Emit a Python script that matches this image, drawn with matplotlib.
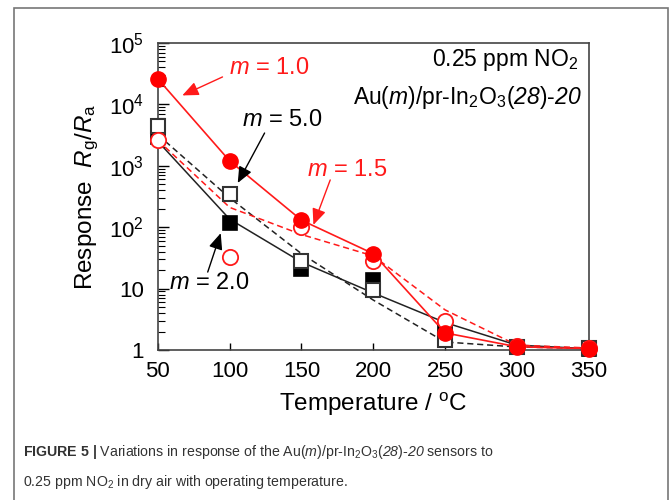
import matplotlib
matplotlib.use("Agg")
import matplotlib.pyplot as plt
from matplotlib.patches import Rectangle
from matplotlib.ticker import FixedLocator, FixedFormatter, NullFormatter, NullLocator

plt.rcParams['font.family'] = ['Liberation Sans', 'DejaVu Sans']
plt.rcParams['mathtext.fontset'] = 'custom'
plt.rcParams['mathtext.rm'] = 'Liberation Sans'
plt.rcParams['mathtext.it'] = 'Liberation Sans:italic'
plt.rcParams['mathtext.bf'] = 'Liberation Sans:bold'
plt.rcParams['mathtext.cal'] = 'Liberation Sans:italic'  # italic digits

# data
temps = [50, 100, 150, 200, 250, 300, 350]
resp_m10 = [2.6e4, 1200, 130, 37, 1.9, 1.13, 1.05]
resp_m15 = [2600, 33, 100, 28, 3.0, 1.16, 1.08]
resp_m20 = [3000, 115, 21, 14, 1.9, 1.10, 1.02]
resp_m50 = [4500, 350, 28, 9.4, 1.45, 1.12, 1.07]

# trend curves as drawn in the original (read at each temperature)
fit_m10 = [2.6e4, 1200, 130, 37, 1.9, 1.13, 1.05]
fit_m15 = [2600, 210, 76, 34, 4.5, 1.2, 1.08]
fit_m20 = [2500, 135, 27, 8.5, 2.8, 1.2, 1.05]
fit_m50 = [3200, 300, 37, 6.5, 1.35, 1.12, 1.06]

yticks = [1, 10, 100, 1000, 1e4, 1e5]
ytick_labels = ['1', '10', '$10^2$', '$10^3$', '$10^4$', '$10^5$']
xticks = [50, 100, 150, 200, 250, 300, 350]

fig = plt.figure(figsize=(6.69, 5.0), dpi=100)
ax = fig.add_axes([0.236, 0.30, 0.644, 0.614])

# trend lines
ax.plot(temps, fit_m20, '-', color='#222222', lw=1.1, zorder=2)
ax.plot(temps, fit_m50, '--', color='#222222', lw=1.1, dashes=(4, 2.5), zorder=2)
ax.plot(temps, fit_m15, '--', color='#ff1a1a', lw=1.1, dashes=(4, 2.5), zorder=2)
ax.plot(temps, fit_m10, '-', color='#ff1a1a', lw=1.2, zorder=2)

# markers
ax.plot(temps, resp_m20, 's', ms=10.5, mfc='black', mec='black', mew=1.2, ls='none',
        zorder=3, clip_on=False)
ax.plot(temps, resp_m50, 's', ms=10.5, mfc='white', mec='#333333', mew=1.5, ls='none',
        zorder=4, clip_on=False)
ax.plot(temps, resp_m15, 'o', ms=11, mfc='white', mec='#ff1a1a', mew=1.3, ls='none',
        zorder=5, clip_on=False)
ax.plot(temps, resp_m10, 'o', ms=11, mfc='#ff0000', mec='#ff0000', ls='none',
        zorder=6, clip_on=False)

ax.set_yscale('log')
ax.set_xlim(50, 350)
ax.set_ylim(1, 1e5)
ax.yaxis.set_major_locator(FixedLocator(yticks))
ax.yaxis.set_major_formatter(FixedFormatter(ytick_labels))
ax.yaxis.set_minor_formatter(NullFormatter())
ax.set_xticks(xticks)
ax.xaxis.set_minor_locator(NullLocator())

ax.tick_params(axis='y', which='major', direction='in', length=8, width=1, labelsize=16, pad=10)
ax.tick_params(axis='y', which='minor', direction='in', length=5, width=0.8)
ax.tick_params(axis='x', which='major', direction='in', length=5, width=1, labelsize=16, pad=8)
for s in ax.spines.values():
    s.set_color('#444444')
    s.set_linewidth(1.2)

ax.set_xlabel('Temperature / $^{\\rm o}$C', fontsize=17.5, labelpad=6)
ax.set_ylabel('Response  $R_{\\rm g}/R_{\\rm a}$', fontsize=17.5, labelpad=6)

# annotations
arrow_kw = dict(arrowstyle='-|>,head_length=0.7,head_width=0.3', lw=1.0, shrinkA=0, shrinkB=0,
                mutation_scale=14)
ax.text(127.8, 3.9e4, '$m$ = 1.0', color='#ff1a1a', fontsize=17, ha='center', va='center')
ax.annotate('', xy=(67, 1.4e4), xytext=(95, 2.8e4),
            arrowprops=dict(color='#ff1a1a', **arrow_kw))
ax.text(136.8, 5570, '$m$ = 5.0', color='black', fontsize=17, ha='center', va='center')
ax.annotate('', xy=(105.6, 525), xytext=(124.3, 3420),
            arrowprops=dict(color='black', **arrow_kw))
ax.text(182, 850, '$m$ = 1.5', color='#ff1a1a', fontsize=17, ha='center', va='center')
ax.annotate('', xy=(158.3, 109), xytext=(170, 588),
            arrowprops=dict(color='#ff1a1a', **arrow_kw))
ax.text(86, 12.3, '$m$ = 2.0', color='black', fontsize=17, ha='center', va='center')
ax.annotate('', xy=(93.75, 80), xytext=(84.7, 18.6),
            arrowprops=dict(color='black', **arrow_kw))

ax.text(0.975, 0.945, '0.25 ppm NO$_2$', transform=ax.transAxes, fontsize=16.5,
        ha='right', va='center')
ax.text(0.984, 0.824, 'Au($m$)/pr-In$_2$O$_3$($\\mathcal{28}$)-$\\mathcal{20}$',
        transform=ax.transAxes, fontsize=16.5, ha='right', va='center')

# outer frame and caption
frame = Rectangle((14 / 669, -0.05), (668 - 14) / 669, 1.05 - 8 / 500, transform=fig.transFigure,
                  fill=False, ec='#777777', lw=1.2, clip_on=False)
fig.patches.append(frame)

cap_color = '#333333'
fig.text(23 / 669, 1 - 452 / 500,
         '$\\bf{FIGURE\\ 5\\ |}$ Variations in response of the Au($m$)/pr-In$_2$O$_3$($\\mathcal{28}$)-$\\mathcal{20}$ sensors to',
         fontsize=10.2, color=cap_color, ha='left', va='center')
fig.text(23 / 669, 1 - 482 / 500, '0.25 ppm NO$_2$ in dry air with operating temperature.',
         fontsize=10.2, color=cap_color, ha='left', va='center')

fig.savefig('out.png', dpi=100)
